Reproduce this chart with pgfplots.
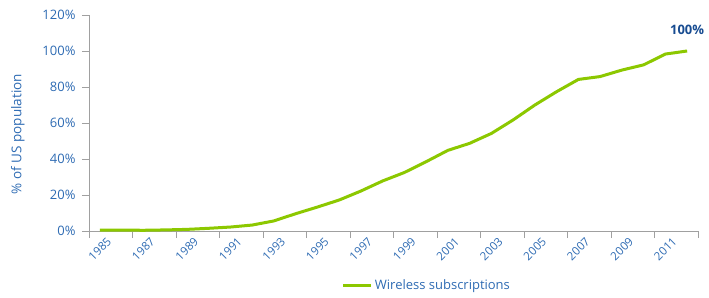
\documentclass[border=0pt]{standalone}
\usepackage{pgfplots}
\pgfplotsset{compat=1.18}
\usepackage{fontspec}
\setmainfont{Open Sans}
\definecolor{tickblue}{RGB}{46,107,179}
\definecolor{darkblue}{RGB}{24,76,145}
\definecolor{limegreen}{RGB}{140,200,0}
\definecolor{axisgray}{RGB}{160,160,160}
\pgfplotstableread{
x y
0 0.5
1 0.5
2 0.4
3 0.6
4 0.9
5 1.5
6 2.2
7 3.3
8 5.6
9 9.6
10 13.3
11 17.2
12 22.2
13 27.8
14 32.5
15 38.5
16 44.8
17 48.7
18 54.2
19 61.7
20 70.0
21 77.4
22 84.2
23 85.8
24 89.4
25 92.3
26 98.3
27 100.0
}\datatable
\begin{document}
\begin{tikzpicture}
\useasboundingbox (-89pt,-66pt) rectangle (620pt,231pt);
\begin{axis}[
  at={(0,0)}, anchor=south west,
  scale only axis, width=609pt, height=216pt,
  xmin=-0.5, xmax=27.5, ymin=0, ymax=120,
  axis x line*=bottom, axis y line*=left,
  axis line style={axisgray, line width=0.8pt},
  tick style={axisgray, line width=0.8pt},
  major tick length=7pt, tick align=outside,
  xtick={-0.5,1.5,...,27.5},
  xticklabels={1985,1987,1989,1991,1993,1995,1997,1999,2001,2003,2005,2007,2009,2011,{}},
  xticklabel style={anchor=center, xshift=10.875pt, yshift=-11pt, rotate=45, font=\fontsize{11.5}{13}\selectfont, text=tickblue},
  ytick={0,20,...,120},
  yticklabels={0\%,20\%,40\%,60\%,80\%,100\%,120\%},
  yticklabel style={xshift=-3pt, font=\fontsize{13}{15}\selectfont, text=tickblue},
  ylabel={\% of US population},
  ylabel shift=11pt,
  ylabel style={xshift=-11pt, font=\fontsize{13.5}{15}\selectfont, text=tickblue},
  clip=false,
  legend style={at={(0.41,-0.25)}, anchor=west, draw=none, fill=none, font=\fontsize{13}{15}\selectfont, text=tickblue},
  legend image code/.code={\draw[#1] (0pt,0pt) -- (28pt,0pt);},
]
\addplot[limegreen, line width=3pt, line join=round] table[x=x,y=y]{\datatable};
\addlegendentry{Wireless subscriptions}
\node[font=\bfseries\fontsize{13}{15}\selectfont, text=darkblue] at (axis cs:27,111.7) {100\%};
\end{axis}
\end{tikzpicture}
\end{document}
